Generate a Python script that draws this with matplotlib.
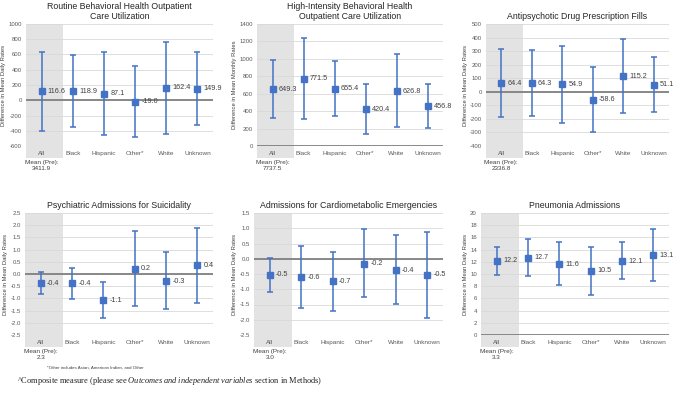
import numpy as np
import matplotlib
matplotlib.use('Agg')
import matplotlib.pyplot as plt
from matplotlib.patches import Rectangle
import matplotlib.transforms as mtransforms

plt.rcParams['font.family'] = ['Liberation Sans', 'DejaVu Sans']
plt.rcParams['mathtext.fontset'] = 'custom'
plt.rcParams['mathtext.rm'] = 'Liberation Serif'
plt.rcParams['mathtext.it'] = 'Liberation Serif:italic'

categories = ['All', 'Black', 'Hispanic', 'Other*', 'White', 'Unknown']

titles = ['Routine Behavioral Health Outpatient\nCare Utilization',
          'High-Intensity Behavioral Health\nOutpatient Care Utilization',
          'Antipsychotic Drug Prescription Fills',
          'Psychiatric Admissions for Suicidality',
          'Admissions for Cardiometabolic Emergencies',
          'Pneumonia Admissions']
ylabels = ['Difference in Mean Daily Rates', 'Difference in Mean Monthly Rates',
           'Difference in Mean Daily Rates', 'Difference in Mean Daily Rates',
           'Difference in Mean Daily Rates', 'Difference in Mean Daily Rates']
pre_means = ['3411.9', '7737.5', '2336.8', '2.3', '3.0', '3.3']

routine_est = [116.6, 118.9, 87.1, -19.0, 162.4, 149.9]
routine_lo = [-398, -348, -462, -478, -446, -330]
routine_hi = [631, 587, 636, 443, 770, 631]

highint_est = [649.3, 771.5, 655.4, 420.4, 626.8, 456.8]
highint_lo = [318, 315, 340, 135, 215, 208]
highint_hi = [990, 1235, 970, 715, 1050, 715]

antipsy_est = [64.4, 64.3, 54.9, -58.6, 115.2, 51.1]
antipsy_lo = [-189, -180, -229, -300, -160, -152]
antipsy_hi = [317, 307, 340, 184, 393, 256]

suicid_est = [-0.38, -0.38, -1.08, 0.21, -0.29, 0.36]
suicid_lo = [-0.82, -1.01, -1.82, -1.33, -1.45, -1.19]
suicid_hi = [0.10, 0.26, -0.34, 1.77, 0.92, 1.90]

cardio_est = [-0.53, -0.60, -0.74, -0.17, -0.37, -0.53]
cardio_lo = [-1.10, -1.63, -1.70, -1.27, -1.48, -1.93]
cardio_hi = [0.03, 0.43, 0.23, 0.96, 0.77, 0.87]

pneu_est = [12.2, 12.7, 11.6, 10.5, 12.1, 13.1]
pneu_lo = [9.9, 9.75, 8.2, 6.5, 9.1, 8.8]
pneu_hi = [14.5, 15.7, 15.2, 14.5, 15.2, 17.4]

panels = [(routine_est, routine_lo, routine_hi),
          (highint_est, highint_lo, highint_hi),
          (antipsy_est, antipsy_lo, antipsy_hi),
          (suicid_est, suicid_lo, suicid_hi),
          (cardio_est, cardio_lo, cardio_hi),
          (pneu_est, pneu_lo, pneu_hi)]

# (ymin, ymax, step, tick format)
yranges = [(-600, 1000, 200, '{:.0f}'), (0, 1400, 200, '{:.0f}'), (-400, 500, 100, '{:.0f}'),
           (-2.5, 2.5, 0.5, '{:.1f}'), (-2.5, 1.5, 0.5, '{:.1f}'), (0, 20, 2, '{:.0f}')]

# pixel boxes: left, right, top, bottom
boxes = [(26, 213, 24, 146), (257, 443, 24, 146), (486, 669, 24, 146),
         (25, 213, 213, 335), (254, 443, 213, 335), (481, 669, 213, 335)]

W, H = 676, 397
fig = plt.figure(figsize=(W / 100, H / 100), dpi=100)
blue = '#4472C4'
x = np.arange(len(categories))

for i, (est, lo, hi) in enumerate(panels):
    l, r, t, b = boxes[i]
    ax = fig.add_axes([l / W, 1 - b / H, (r - l) / W, (b - t) / H])
    ymin, ymax, step, fmt = yranges[i]
    est = np.array(est)
    err = [est - np.array(lo), np.array(hi) - est]

    # grey band behind the "All" column, running down over its label
    trans = mtransforms.blended_transform_factory(ax.transData, ax.transAxes)
    ax.add_patch(Rectangle((-0.5, -0.1), 1.2, 1.1, transform=trans, color='#e3e3e3',
                           clip_on=False, zorder=0, lw=0))

    ticks = np.arange(ymin, ymax + step / 2, step)
    for tk in ticks:
        ax.axhline(tk, color='#d9d9d9', lw=0.6, zorder=1)
    ax.axhline(0, color='#808080', lw=1.3, zorder=2)

    ax.errorbar(x, est, yerr=err, fmt='s', color=blue, ms=4.5, ecolor=blue,
                elinewidth=1.1, capsize=2.2, capthick=1.1, zorder=3)
    for xi, v in zip(x, est):
        ax.text(xi + 0.2, v, f'{v:.1f}', fontsize=5.2, color='#404040',
                va='center', ha='left', zorder=4)

    ax.set_xlim(-0.5, len(categories) - 0.5)
    ax.set_ylim(ymin, ymax)
    ax.set_yticks(ticks)
    ax.set_yticklabels([fmt.format(tk) for tk in ticks], fontsize=4.3, color='#595959')
    ax.set_xticks(x)
    ax.set_xticklabels(categories, fontsize=4.6, color='#595959')
    ax.tick_params(length=0, pad=3)
    ax.tick_params(axis='x', pad=3.5)
    for s in ax.spines.values():
        s.set_visible(False)
    ax.set_facecolor('none')
    ax.set_ylabel(ylabels[i], fontsize=4.2, color='#404040', labelpad=1.5)
    ax.set_title(titles[i], fontsize=6.3, color='#262626', pad=3.5, linespacing=1.15)

    ax.text(0, -0.115, 'Mean (Pre):\n' + pre_means[i], transform=trans, ha='center',
            va='top', fontsize=4.6, color='#404040', linespacing=1.2)

fig.text(47 / W, 1 - 368 / H, '*Other includes Asian, American Indian, and Other',
         fontsize=3.2, color='#404040', va='center')
fig.text(17 / W, 1 - 381 / H,
         r'^Composite measure (please see $\it{Outcomes\ and\ independent\ variables}$ section in Methods)',
         fontsize=6.0, family='Liberation Serif', va='center', color='#222222')

fig.savefig('out.png', dpi=100)
